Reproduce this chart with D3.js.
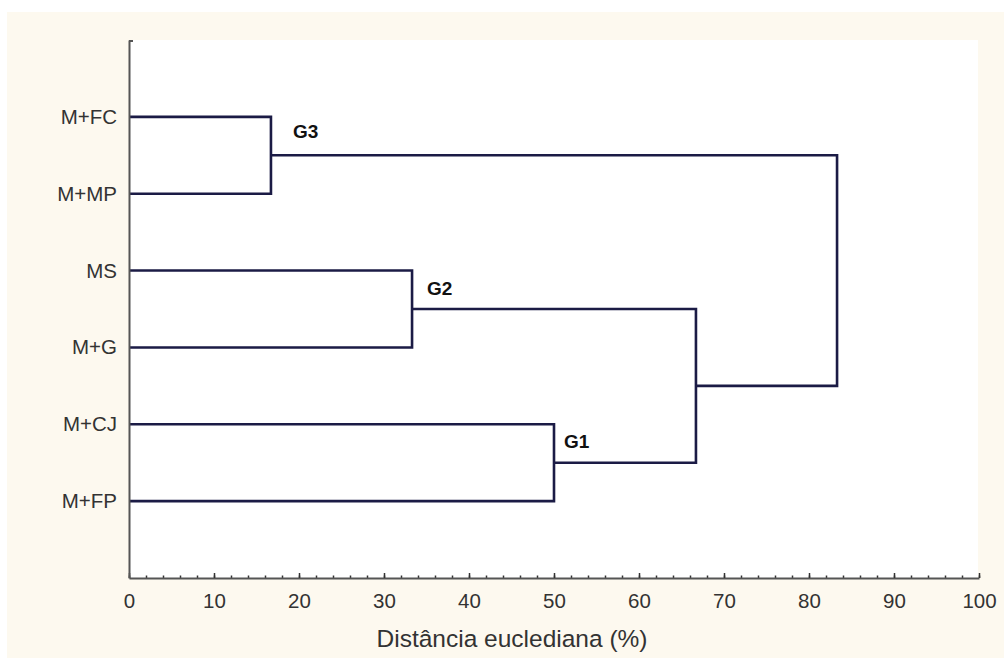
<!DOCTYPE html>
<html>
<head>
<meta charset="utf-8">
<script src="https://cdn.jsdelivr.net/npm/d3@7"></script>
<style>
  html, body { margin: 0; padding: 0; background: #ffffff; }
  svg { display: block; }
</style>
</head>
<body>
<svg id="chart" width="1004" height="659"></svg>
<script>
// ---- data ----
const leaves = ["M+FC", "M+MP", "MS", "M+G", "M+CJ", "M+FP"];
const mergeNames   = ["G3", "G2", "G1", "N4", "N5"];
const mergeA       = ["M+FC", "MS", "M+CJ", "G2", "G3"];
const mergeB       = ["M+MP", "M+G", "M+FP", "G1", "N4"];
const mergeHeights = [16.7, 33.3, 50.0, 66.7, 83.3];
const groupLabels  = ["G3", "G2", "G1"];
const xTicks = [0, 10, 20, 30, 40, 50, 60, 70, 80, 90, 100];
const xMinorTicks = d3.range(0, 101, 2);
const xTitleText = "Distância euclediana (%)";

// ---- layout / style ----
const svg = d3.select("#chart");
const plot = { left: 129, right: 979, top: 40, bottom: 578 };
const lineColor = "#1b1b45";
const axisColor = "#555555";
const labelOffsets = { G3: [22, -17], G2: [15, -14], G1: [10, -15] };
const fontFamily = "Liberation Sans, Arial, sans-serif";

svg.append("rect").attr("x", 7).attr("y", 12).attr("width", 997).attr("height", 646).attr("fill", "#fdf9ef");
svg.append("rect").attr("x", plot.left).attr("y", plot.top).attr("width", 978 - plot.left).attr("height", plot.bottom - plot.top).attr("fill", "#ffffff");

const x = d3.scaleLinear().domain([0, 100]).range([plot.left, plot.right]);
const y = d3.scaleLinear().domain([0, leaves.length + 1]).range([plot.top, plot.bottom]);

// node positions
const pos = {};
leaves.forEach((l, i) => { pos[l] = { h: 0, idx: i + 1 }; });
mergeNames.forEach((n, i) => {
  const a = pos[mergeA[i]], b = pos[mergeB[i]];
  pos[n] = { h: mergeHeights[i], idx: (a.idx + b.idx) / 2 };
});

// dendrogram links
const g = svg.append("g");
mergeNames.forEach((n, i) => {
  const a = pos[mergeA[i]], b = pos[mergeB[i]], h = mergeHeights[i];
  const p = d3.path();
  p.moveTo(x(a.h), y(a.idx));
  p.lineTo(x(h), y(a.idx));
  p.lineTo(x(h), y(b.idx));
  p.lineTo(x(b.h), y(b.idx));
  g.append("path").attr("d", p.toString())
    .attr("fill", "none").attr("stroke", lineColor).attr("stroke-width", 2.6)
    .attr("stroke-linejoin", "miter");
});

// group labels
groupLabels.forEach(lbl => {
  const n = pos[lbl], off = labelOffsets[lbl];
  svg.append("text")
    .attr("x", x(n.h) + off[0]).attr("y", y(n.idx) + off[1])
    .attr("font-family", fontFamily)
    .attr("font-weight", "bold").attr("font-size", 19)
    .attr("fill", "#111111").text(lbl);
});

// bottom axis - minor ticks
const minorAxis = d3.axisBottom(x).tickValues(xMinorTicks).tickSize(-2.5).tickFormat("");
svg.append("g").attr("transform", `translate(0,${plot.bottom})`).call(minorAxis)
  .call(s => s.select(".domain").remove())
  .call(s => s.selectAll("line").attr("stroke", "#333").attr("stroke-width", 1.5));

// bottom axis - major
const xAxis = d3.axisBottom(x).tickValues(xTicks).tickSize(-5).tickPadding(15).tickSizeOuter(0);
const xa = svg.append("g").attr("transform", `translate(0,${plot.bottom})`).call(xAxis);
xa.select(".domain").attr("stroke", axisColor).attr("stroke-width", 2);
xa.selectAll(".tick line").attr("stroke", "#333").attr("stroke-width", 1.5);
xa.selectAll(".tick text")
  .attr("font-family", fontFamily)
  .attr("font-size", 20.5).attr("fill", "#333333");

// left axis
const yAxis = d3.axisLeft(y).tickValues(d3.range(1, leaves.length + 1))
  .tickFormat(i => leaves[i - 1]).tickSize(0).tickPadding(12).tickSizeOuter(0);
const ya = svg.append("g").attr("transform", `translate(${plot.left},0)`).call(yAxis);
ya.select(".domain").attr("stroke", axisColor).attr("stroke-width", 2);
ya.selectAll(".tick text")
  .attr("font-family", fontFamily)
  .attr("font-size", 20.5).attr("fill", "#333333");
svg.append("line").attr("x1", plot.left).attr("x2", plot.left + 4)
  .attr("y1", plot.top + 1).attr("y2", plot.top + 1).attr("stroke", axisColor).attr("stroke-width", 2);

// x title
svg.append("text")
  .attr("x", 512).attr("y", 647)
  .attr("text-anchor", "middle")
  .attr("font-family", fontFamily)
  .attr("font-size", 24.5).attr("fill", "#333333")
  .text(xTitleText);
</script>
</body>
</html>
